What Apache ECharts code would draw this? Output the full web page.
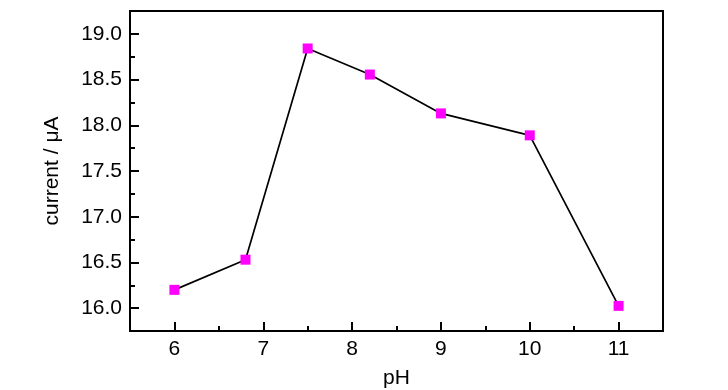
<!DOCTYPE html>
<html>
<head>
<meta charset="utf-8">
<script src="https://cdn.jsdelivr.net/npm/echarts@6/dist/echarts.min.js"></script>
<style>
html,body{margin:0;padding:0;background:#fff;}
#chart{width:728px;height:390px;}
</style>
</head>
<body>
<div id="chart"></div>
<script>
// Data
var phValues = [6, 6.8, 7.5, 8.2, 9, 10, 11];
var currentValues = [16.20, 16.53, 18.84, 18.555, 18.13, 17.89, 16.025];
var xMajorTicks = [6, 7, 8, 9, 10, 11];
var xMinorTicks = [6.5, 7.5, 8.5, 9.5, 10.5];
var yMajorTicks = [16.0, 16.5, 17.0, 17.5, 18.0, 18.5, 19.0];
var yMinorTicks = [16.25, 16.75, 17.25, 17.75, 18.25, 18.75];
var xTitle = 'pH';
var yTitle = 'current / μA';

var FONT = '"Liberation Sans", Arial, sans-serif';
var chart = echarts.init(document.getElementById('chart'), null, {renderer: 'canvas'});

var points = phValues.map(function (x, i) { return [x, currentValues[i]]; });

var option = {
  backgroundColor: '#fff',
  animation: false,
  grid: {
    left: 130, right: 65, top: 11, bottom: 59,
    outerBoundsMode: 'none', containLabel: false,
    show: true, borderColor: '#000', borderWidth: 2, backgroundColor: 'transparent'
  },
  xAxis: [{
    type: 'value', min: 5.5, max: 11.5, position: 'bottom',
    name: xTitle, nameLocation: 'middle', nameGap: 37,
    nameTextStyle: {fontFamily: FONT, fontSize: 21, color: '#000'},
    axisLine: {show: true, onZero: false, lineStyle: {color: '#000', width: 2}},
    axisTick: {show: true, inside: true, length: 9, customValues: xMajorTicks, lineStyle: {color: '#000', width: 2}},
    axisLabel: {show: true, customValues: xMajorTicks, margin: 8, fontFamily: FONT, fontSize: 21, color: '#000'},
    splitLine: {show: false}
  }, {
    type: 'value', min: 5.5, max: 11.5, position: 'bottom', gridIndex: 0,
    axisLine: {show: false},
    axisTick: {show: true, inside: true, length: 5, customValues: xMinorTicks, lineStyle: {color: '#000', width: 2}},
    axisLabel: {show: false},
    splitLine: {show: false}
  }],
  yAxis: [{
    type: 'value', min: 15.75, max: 19.25, position: 'left',
    name: yTitle, nameLocation: 'middle', nameGap: 67,
    nameTextStyle: {fontFamily: FONT, fontSize: 21, color: '#000'},
    axisLine: {show: true, onZero: false, lineStyle: {color: '#000', width: 2}},
    axisTick: {show: true, inside: true, length: 9, customValues: yMajorTicks, lineStyle: {color: '#000', width: 2}},
    axisLabel: {show: true, customValues: yMajorTicks, margin: 8, fontFamily: FONT, fontSize: 21, color: '#000',
      formatter: function (v) { return v.toFixed(1); }},
    splitLine: {show: false}
  }, {
    type: 'value', min: 15.75, max: 19.25, position: 'left',
    axisLine: {show: false},
    axisTick: {show: true, inside: true, length: 5, customValues: yMinorTicks, lineStyle: {color: '#000', width: 2}},
    axisLabel: {show: false},
    splitLine: {show: false}
  }],
  series: [{
    type: 'line',
    xAxisIndex: 0, yAxisIndex: 0,
    data: points,
    symbol: 'rect', symbolSize: 10,
    itemStyle: {color: '#ff00ff', borderWidth: 0},
    lineStyle: {color: '#000', width: 1.7},
    z: 3
  }]
};
chart.setOption(option);
</script>
</body>
</html>
